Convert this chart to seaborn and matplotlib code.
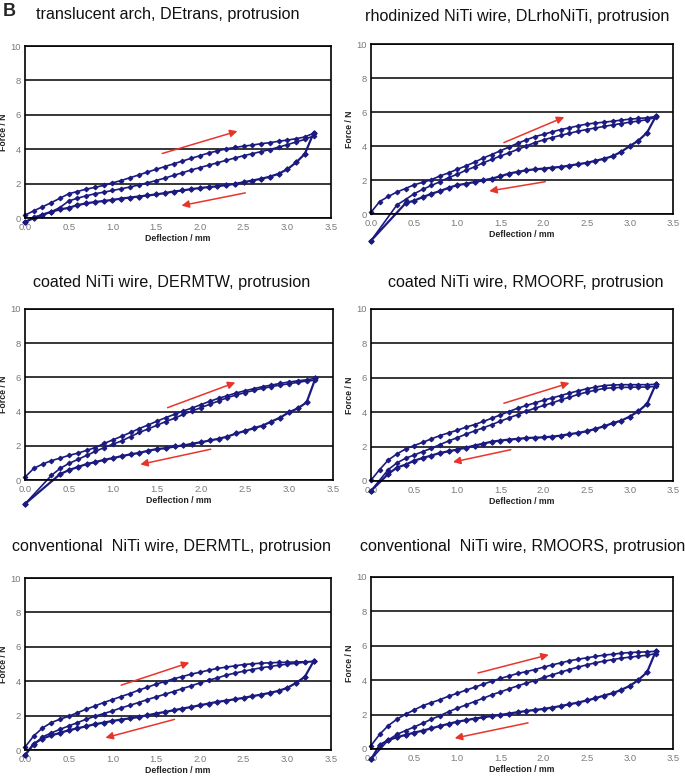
import numpy as np
import pandas as pd
import matplotlib
matplotlib.use('Agg')
import matplotlib.pyplot as plt
import seaborn as sns

nan = np.nan

# Deflection steps (mm) of the measurement
defl = [round(0.1 * i, 1) for i in range(34)]

titles = [
    'translucent arch, DEtrans, protrusion',
    'rhodinized NiTi wire, DLrhoNiTi, protrusion',
    'coated NiTi wire, DERMTW, protrusion',
    'coated NiTi wire, RMOORF, protrusion',
    'conventional  NiTi wire, DERMTL, protrusion',
    'conventional  NiTi wire, RMOORS, protrusion',
]

# Force (N) per panel: first loading, second loading, unloading
load1_detrans = [0.16, 0.42, 0.65, 0.89, 1.15, 1.41, 1.54, 1.68, 1.78, 1.90, 2.04, 2.18, 2.34, 2.50, 2.67, 2.83, 2.99,
                 3.15, 3.31, 3.47, 3.62, 3.78, 3.90, 4.02, 4.10, 4.18, 4.24, 4.32, 4.38, 4.46, 4.53, 4.61, 4.71, 4.93]
load2_detrans = [-0.24, 0.05, 0.16, 0.36, 0.61, 0.99, 1.15, 1.29, 1.41, 1.50, 1.60, 1.70, 1.80, 1.92, 2.04, 2.18, 2.32,
                 2.48, 2.63, 2.79, 2.93, 3.07, 3.21, 3.35, 3.49, 3.62, 3.74, 3.86, 3.98, 4.12, 4.26, 4.42, 4.57, 4.77]
unload_detrans = [-0.24, 0.00, 0.20, 0.36, 0.50, 0.59, 0.75, 0.85, 0.93, 0.99, 1.05, 1.13, 1.19, 1.25, 1.31, 1.37, 1.45,
                  1.54, 1.60, 1.68, 1.74, 1.80, 1.84, 1.92, 1.98, 2.08, 2.18, 2.28, 2.40, 2.57, 2.83, 3.23, 3.72, 4.93]

load1_dlrho = [0.10, 0.73, 1.03, 1.29, 1.50, 1.72, 1.86, 2.02, 2.24, 2.42, 2.63, 2.83, 3.05, 3.29, 3.50, 3.72, 3.94,
               4.16, 4.36, 4.55, 4.69, 4.83, 4.97, 5.07, 5.19, 5.29, 5.35, 5.40, 5.46, 5.52, 5.58, 5.62, 5.66, 5.74]
load2_dlrho = [-1.57, nan, nan, 0.53, 0.85, 1.19, 1.45, 1.68, 1.90, 2.14, 2.34, 2.57, 2.77, 3.01, 3.21, 3.41, 3.60,
               3.80, 4.00, 4.20, 4.36, 4.50, 4.63, 4.75, 4.87, 4.97, 5.06, 5.15, 5.24, 5.32, 5.40, 5.47, 5.55, 5.68]
unload_dlrho = [-1.57, nan, nan, nan, 0.63, 0.79, 0.99, 1.19, 1.35, 1.54, 1.70, 1.78, 1.88, 1.98, 2.08, 2.22, 2.38,
                2.48, 2.57, 2.63, 2.67, 2.73, 2.77, 2.85, 2.93, 3.01, 3.13, 3.25, 3.40, 3.66, 4.00, 4.32, 4.79, 5.74]

load1_dermtw = [0.17, 0.68, 0.93, 1.13, 1.28, 1.44, 1.57, 1.73, 1.90, 2.14, 2.35, 2.56, 2.78, 3.01, 3.22, 3.44, 3.65,
                3.84, 4.04, 4.21, 4.41, 4.60, 4.78, 4.93, 5.09, 5.22, 5.34, 5.46, 5.55, 5.65, 5.73, 5.80, 5.86, 5.94]
load2_dermtw = [-1.40, nan, nan, 0.27, 0.68, 0.97, 1.20, 1.44, 1.67, 1.90, 2.10, 2.29, 2.54, 2.78, 2.99, 3.20, 3.42,
                3.61, 3.84, 4.04, 4.23, 4.43, 4.62, 4.82, 4.97, 5.11, 5.24, 5.36, 5.46, 5.55, 5.63, 5.71, 5.79, 5.83]
unload_dermtw = [-1.40, nan, nan, nan, 0.35, 0.58, 0.76, 0.93, 1.05, 1.18, 1.28, 1.40, 1.50, 1.59, 1.71, 1.81, 1.86,
                 1.96, 2.02, 2.12, 2.21, 2.31, 2.41, 2.54, 2.72, 2.87, 3.03, 3.18, 3.42, 3.65, 3.96, 4.19, 4.54, 5.94]

load1_rmoorf = [0.05, 0.66, 1.22, 1.57, 1.86, 2.06, 2.25, 2.45, 2.64, 2.80, 2.95, 3.13, 3.28, 3.46, 3.65, 3.84, 4.04,
                4.23, 4.39, 4.54, 4.70, 4.83, 4.97, 5.11, 5.24, 5.36, 5.46, 5.55, 5.58, 5.60, 5.60, 5.60, 5.60, 5.62]
load2_rmoorf = [-0.57, nan, 0.66, 1.05, 1.32, 1.51, 1.71, 1.90, 2.12, 2.33, 2.52, 2.72, 2.91, 3.09, 3.28, 3.48, 3.67,
                3.86, 4.06, 4.23, 4.39, 4.54, 4.72, 4.87, 5.03, 5.17, 5.28, 5.38, 5.42, 5.44, 5.45, 5.46, 5.46, 5.50]
unload_rmoorf = [-0.57, nan, 0.41, 0.78, 0.95, 1.18, 1.34, 1.48, 1.63, 1.73, 1.83, 1.94, 2.06, 2.17, 2.29, 2.35, 2.41,
                 2.45, 2.50, 2.52, 2.54, 2.58, 2.64, 2.72, 2.80, 2.89, 3.03, 3.18, 3.36, 3.51, 3.75, 4.06, 4.49, 5.62]

load1_dermtl = [0.17, 0.82, 1.28, 1.59, 1.79, 1.96, 2.17, 2.37, 2.56, 2.76, 2.93, 3.11, 3.28, 3.48, 3.65, 3.83, 3.98,
                4.14, 4.27, 4.41, 4.52, 4.64, 4.74, 4.82, 4.89, 4.97, 5.01, 5.05, 5.07, 5.09, 5.10, 5.12, 5.13, 5.15]
load2_dermtl = [-0.30, 0.31, 0.76, 0.99, 1.20, 1.40, 1.59, 1.79, 1.96, 2.12, 2.27, 2.45, 2.60, 2.76, 2.93, 3.09, 3.24,
                3.40, 3.57, 3.73, 3.90, 4.06, 4.19, 4.35, 4.47, 4.58, 4.68, 4.78, 4.85, 4.93, 4.99, 5.04, 5.10, 5.15]
unload_dermtl = [-0.30, 0.37, 0.66, 0.85, 0.99, 1.15, 1.26, 1.38, 1.50, 1.59, 1.69, 1.77, 1.84, 1.92, 2.02, 2.12, 2.21,
                 2.31, 2.41, 2.50, 2.60, 2.70, 2.80, 2.87, 2.95, 3.03, 3.13, 3.22, 3.32, 3.44, 3.61, 3.90, 4.25, 5.15]

load1_rmoors = [0.20, 0.85, 1.36, 1.73, 2.02, 2.27, 2.52, 2.70, 2.87, 3.07, 3.24, 3.42, 3.59, 3.77, 3.94, 4.10, 4.25,
                4.39, 4.50, 4.62, 4.76, 4.89, 5.01, 5.13, 5.22, 5.30, 5.38, 5.46, 5.51, 5.57, 5.61, 5.63, 5.65, 5.68]
load2_rmoors = [-0.60, nan, 0.52, 0.85, 1.07, 1.28, 1.50, 1.73, 1.94, 2.17, 2.37, 2.56, 2.76, 2.95, 3.15, 3.32, 3.50,
                3.67, 3.83, 3.98, 4.16, 4.31, 4.47, 4.62, 4.76, 4.89, 5.01, 5.11, 5.20, 5.28, 5.34, 5.40, 5.45, 5.55]
unload_rmoors = [-0.60, 0.23, 0.52, 0.68, 0.82, 0.95, 1.07, 1.20, 1.34, 1.46, 1.59, 1.67, 1.77, 1.84, 1.92, 1.98, 2.06,
                 2.14, 2.21, 2.27, 2.33, 2.41, 2.50, 2.60, 2.70, 2.82, 2.95, 3.11, 3.24, 3.44, 3.67, 4.02, 4.47, 5.68]

panels = [
    (load1_detrans, load2_detrans, unload_detrans),
    (load1_dlrho, load2_dlrho, unload_dlrho),
    (load1_dermtw, load2_dermtw, unload_dermtw),
    (load1_rmoorf, load2_rmoorf, unload_rmoorf),
    (load1_dermtl, load2_dermtl, unload_dermtl),
    (load1_rmoors, load2_rmoors, unload_rmoors),
]

# Red direction arrows (tail -> head) in data units
arrows_up = [((1.57, 3.75), (2.43, 5.05)), ((1.54, 4.2), (2.24, 5.7)), ((1.62, 4.23), (2.39, 5.7)),
             ((1.54, 4.52), (2.3, 5.7)), ((1.1, 3.77), (1.88, 5.08)), ((1.24, 4.42), (2.06, 5.48))]
arrows_down = [((2.52, 1.46), (1.79, 0.72)), ((2.02, 1.9), (1.37, 1.35)), ((2.11, 1.8), (1.31, 0.91)),
               ((1.62, 1.82), (0.95, 1.1)), ((1.71, 1.78), (0.92, 0.71)), ((1.82, 1.52), (0.97, 0.63))]

# Layout in pixels: axes box (left, top, right, bottom) and title centre
W, H = 685, 776
boxes = [(25, 46, 331, 218), (371, 44, 673, 214),
         (25, 309, 333, 480), (371, 309, 673, 481),
         (25, 578, 331, 750), (371, 577, 673, 749)]
title_pos = [(168, 15), (517, 16), (172, 282), (526, 282), (172, 546), (523, 546)]

sns.set_style('white')
plt.rcParams['font.family'] = ['Liberation Sans', 'DejaVu Sans']

navy = '#1a1a80'
red = '#e8352b'

fig = plt.figure(figsize=(W / 100, H / 100), dpi=100)

for i, (curves, box) in enumerate(zip(panels, boxes)):
    l, t, r, b = box
    ax = fig.add_axes([l / W, 1 - b / H, (r - l) / W, (b - t) / H])
    for j, y in enumerate(curves):
        df = pd.DataFrame({'defl': defl, 'force': y}).dropna()
        sns.lineplot(data=df, x='defl', y='force', ax=ax, sort=False, estimator=None,
                     color=navy, lw=1.6 if j == 2 else 1.2, marker='D',
                     markersize=2.8 if j == 2 else 2.4, markeredgecolor=navy)
    for line in ax.lines:
        line.set_clip_on(False)

    for (tail, head) in (arrows_up[i], arrows_down[i]):
        ax.annotate('', xy=head, xytext=tail,
                    arrowprops=dict(arrowstyle='-|>', color=red, lw=1.1,
                                    mutation_scale=11, shrinkA=0, shrinkB=0))

    ax.set_xlim(0, 3.5)
    ax.set_ylim(0, 10)
    xt = np.arange(0, 3.51, 0.5)
    ax.set_xticks(xt)
    ax.set_xticklabels([f'{v:.1f}' for v in xt])
    ax.set_yticks(range(0, 11, 2))
    ax.set_axisbelow(True)
    ax.yaxis.grid(True, color='black', lw=1.1)
    ax.xaxis.grid(False)
    for s in ax.spines.values():
        s.set_color('black')
        s.set_linewidth(1.2)
    ax.tick_params(axis='x', length=0, labelsize=6.8, labelcolor='#7a7a7a', pad=3.5)
    ax.tick_params(axis='y', length=0, labelsize=6.8, labelcolor='#7a7a7a', pad=3)
    ax.set_xlabel('Deflection / mm', fontsize=6.3, fontweight='bold', color='#222222', labelpad=1.5)
    ax.set_ylabel('Force / N', fontsize=6.3, fontweight='bold', color='#222222', labelpad=2)

    tx, ty = title_pos[i]
    fig.text(tx / W, 1 - ty / H, titles[i], ha='center', va='center', fontsize=11.6, color='#111111')

fig.text(9 / W, 1 - 11 / H, 'B', ha='center', va='center', fontsize=13, fontweight='bold')

fig.savefig('out.png', dpi=100)
